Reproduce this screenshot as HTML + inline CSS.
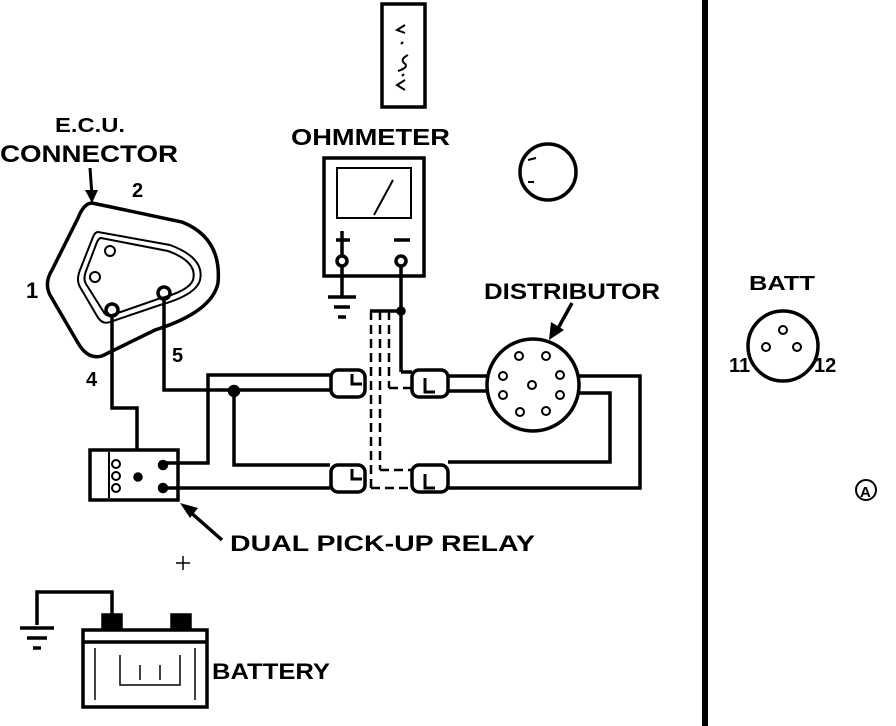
<!DOCTYPE html>
<html><head><style>
html,body{margin:0;padding:0;background:#fff;}
svg{display:block;}
text{font-family:"Liberation Sans",sans-serif;font-weight:bold;fill:#000;}
</style></head><body>
<svg width="896" height="726" viewBox="0 0 896 726" xmlns="http://www.w3.org/2000/svg">
<g fill="none" stroke="#000" stroke-width="3.5">
<rect x="382" y="4" width="43" height="103"/>
<path d="M405 25 l-8 5 8 3 M403 42 l-2 2 M408 55 q-8 4 -4 8 q6 4 -6 8 M404 74 l-2 2 M405 80 l-8 5 8 5" stroke-width="2"/>
<rect x="324" y="158" width="100" height="118"/>
<rect x="337" y="168" width="74" height="50" stroke-width="2"/>
<line x1="374" y1="215" x2="393" y2="180" stroke-width="2"/>
<line x1="336" y1="240" x2="350" y2="240"/><line x1="342" y1="231" x2="342" y2="256"/>
<line x1="394" y1="240" x2="410" y2="240"/>
<circle cx="342" cy="261" r="5"/><circle cx="401" cy="261" r="5"/>
<line x1="342" y1="266" x2="342" y2="297"/>
<line x1="328" y1="297" x2="356" y2="297"/><line x1="334" y1="307" x2="350" y2="307"/><line x1="338" y1="317" x2="346" y2="317"/>
<line x1="401" y1="266" x2="401" y2="372"/><line x1="401" y1="372" x2="412" y2="372"/>
<line x1="370" y1="311" x2="401" y2="311"/>
<circle cx="401" cy="311" r="3" fill="#000"/>
<g stroke-dasharray="9,5" stroke-width="2.5">
<line x1="371" y1="311" x2="371" y2="488"/>
<line x1="380" y1="311" x2="380" y2="470"/><line x1="380" y1="470" x2="412" y2="470"/>
<line x1="389" y1="311" x2="389" y2="388"/><line x1="389" y1="388" x2="412" y2="388"/>
<line x1="371" y1="488" x2="412" y2="488"/>
</g>
<circle cx="548" cy="172" r="28"/>
<path d="M528 160 l8 -2 M528 182 l6 0" stroke-width="2"/>
<path d="M92 203 L182 222 Q222 238 218 283 Q212 312 155 330 L102 356 Q88 360 78 343 L50 295 Q44 283 52 270 L78 218 Q84 203 92 203 Z"/>
<path d="M98 232 L170 245 Q205 258 200 280 Q196 295 160 305 L110 322 Q102 325 97 316 L80 287 Q76 280 80 270 L93 237 Q95 232 98 232 Z" stroke-width="2"/>
<path d="M101 238 L168 251 Q198 262 193 280 Q189 291 158 299 L112 315 Q106 317 103 311 L86 284 Q83 279 86 271 L97 242 Q99 238 101 238 Z" stroke-width="2"/>
<circle cx="110" cy="251" r="5" stroke-width="2"/><circle cx="95" cy="277" r="5" stroke-width="2"/>
<circle cx="112" cy="310" r="6"/><circle cx="164" cy="293" r="6"/>
<polyline points="112,316 112,408 137,408 137,450"/>
<polyline points="164,299 164,390 330,390"/>
<polyline points="165,463 208,463 208,375 330,375"/>
<polyline points="234,390 234,465 330,465"/>
<line x1="165" y1="488" x2="330" y2="488"/>
<circle cx="234" cy="391" r="4.5" fill="#000"/>
<rect x="90" y="450" width="88" height="50"/>
<line x1="109" y1="452" x2="109" y2="498" stroke-width="2"/>
<circle cx="116" cy="464" r="4" stroke-width="2"/><circle cx="116" cy="476" r="4" stroke-width="2"/><circle cx="116" cy="488" r="4" stroke-width="2"/>
<circle cx="138" cy="477" r="3" fill="#000"/><circle cx="163" cy="465" r="3.5" fill="#000"/><circle cx="163" cy="488" r="3.5" fill="#000"/>
<rect x="331" y="370" width="34" height="27" rx="7"/>
<rect x="412" y="370" width="36" height="27" rx="7"/>
<rect x="331" y="465" width="34" height="27" rx="7"/>
<rect x="412" y="465" width="36" height="27" rx="7"/>
<path d="M352 374 v10 h10 M425 378 v14 h10 M352 469 v10 h10 M425 474 v14 h10" stroke-width="3"/>
<line x1="448" y1="376" x2="488" y2="376"/><line x1="448" y1="391" x2="488" y2="391"/>
<polyline points="578,376 640,376 640,488 448,488"/>
<polyline points="578,393 610,393 610,462 448,462"/>
<circle cx="533" cy="385" r="46"/>
<g stroke-width="2">
<circle cx="519" cy="356" r="4"/><circle cx="546" cy="356" r="4"/>
<circle cx="503" cy="376" r="4"/><circle cx="560" cy="375" r="4"/>
<circle cx="532" cy="385" r="4"/>
<circle cx="503" cy="395" r="4"/><circle cx="560" cy="395" r="4"/>
<circle cx="520" cy="412" r="4"/><circle cx="546" cy="411" r="4"/>
</g>
<line x1="572" y1="303" x2="556" y2="332" stroke-width="3.5"/>
<line x1="705" y1="0" x2="705" y2="726" stroke-width="6"/>
<circle cx="783" cy="346" r="35"/>
<circle cx="783" cy="330" r="4" stroke-width="2"/><circle cx="766" cy="347" r="4" stroke-width="2"/><circle cx="797" cy="347" r="4" stroke-width="2"/>
<circle cx="866" cy="490" r="10" stroke-width="2"/>
<polyline points="112,620 112,592 37,592 37,625"/>
<line x1="20" y1="628" x2="54" y2="628"/><line x1="27" y1="638" x2="47" y2="638"/><line x1="33" y1="648" x2="41" y2="648"/>
<rect x="83" y="630" width="124" height="77"/>
<line x1="83" y1="642" x2="207" y2="642"/>
<rect x="103" y="615" width="18" height="14" fill="#000"/>
<rect x="172" y="615" width="18" height="14" fill="#000"/>
<path d="M95 648 v52 M195 648 v52 M120 655 v30 h60 v-30 M140 665 v15 M160 665 v15" stroke-width="1.5"/>
<line x1="222" y1="540" x2="188" y2="510" stroke-width="3.5"/>
<line x1="90" y1="168" x2="92" y2="196" stroke-width="3"/>
<line x1="176" y1="563" x2="190" y2="563" stroke-width="1.5"/><line x1="183" y1="556" x2="183" y2="570" stroke-width="1.5"/>
</g>
<polygon points="85,190 98,190 92,203" fill="#000"/>
<polygon points="549,340 551,322 564,330" fill="#000"/>
<polygon points="180,503 198,508 190,518" fill="#000"/>
<text x="55" y="132" font-size="20" textLength="70" lengthAdjust="spacingAndGlyphs">E.C.U.</text>
<text x="0" y="162" font-size="24" textLength="178" lengthAdjust="spacingAndGlyphs">CONNECTOR</text>
<text x="132" y="197" font-size="20">2</text>
<text x="26" y="298" font-size="22">1</text>
<text x="86" y="386" font-size="20">4</text>
<text x="172" y="362" font-size="20">5</text>
<text x="291" y="145" font-size="23" textLength="159" lengthAdjust="spacingAndGlyphs">OHMMETER</text>
<text x="484" y="299" font-size="22" textLength="176" lengthAdjust="spacingAndGlyphs">DISTRIBUTOR</text>
<text x="230" y="551" font-size="22" textLength="305" lengthAdjust="spacingAndGlyphs">DUAL PICK-UP RELAY</text>
<text x="212" y="679" font-size="22" textLength="118" lengthAdjust="spacingAndGlyphs">BATTERY</text>
<text x="749" y="290" font-size="20" textLength="66" lengthAdjust="spacingAndGlyphs">BATT</text>
<text x="729" y="372" font-size="20">11</text>
<text x="814" y="372" font-size="20">12</text>
<text x="860" y="497" font-size="15">A</text>
</svg>
</body></html>
